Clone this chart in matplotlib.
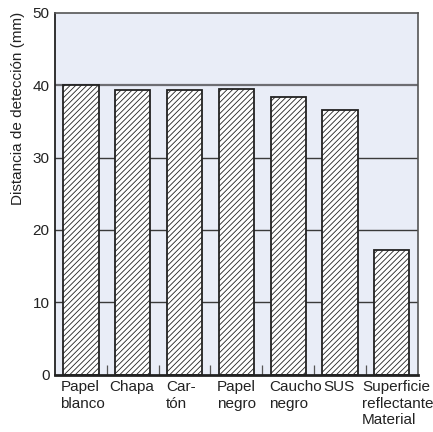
import matplotlib
matplotlib.use("Agg")
import matplotlib.pyplot as plt
from matplotlib.transforms import offset_copy

plt.rcParams["font.family"] = ["Liberation Sans", "DejaVu Sans"]
plt.rcParams["hatch.linewidth"] = 0.6

# Detection distance per target material
materials = ["Papel\nblanco", "Chapa", "Car-\ntón", "Papel\nnegro",
             "Caucho\nnegro", "SUS", "Superficie\nreflectante\nMaterial"]
distances = [40.0, 39.3, 39.3, 39.45, 38.35, 36.5, 17.3]
y_ticks = [0, 10, 20, 30, 40, 50]

# horizontal nudge (pixels) of each category label from its bar's left edge
label_nudge_px = [-3, -6, -1, -2, -1, 1, -12]

fig = plt.figure(figsize=(4.33, 4.32), dpi=100)
ax = fig.add_axes([0.127, 0.132, 0.8376, 0.839])
ax.set_facecolor("#E9EDF7")

# horizontal reference lines behind the bars
for y in y_ticks[1:-1]:
    ax.axhline(y, color="#3a3a3a" if y != 40 else "#6d6d72",
               lw=1.0 if y != 40 else 1.6, zorder=1)

x = list(range(len(materials)))
width = 0.68
ax.bar(x, distances, width=width, color="white", edgecolor="#222222",
       linewidth=1.3, hatch="//////", zorder=2)

ax.set_xlim(-0.5, len(materials) - 0.5)
ax.set_ylim(0, 50)
ax.set_yticks(y_ticks)
ax.tick_params(axis="y", length=0, pad=4, labelsize=11, colors="#222222")

# separators between categories along the bottom
ax.set_xticks([i + 0.5 for i in range(len(materials) - 1)], minor=True)
ax.set_xticks([])
ax.tick_params(axis="x", which="minor", direction="in", length=7,
               width=0.9, color="#555555")

# category labels, left-aligned under each bar
for i, (name, dx) in enumerate(zip(materials, label_nudge_px)):
    tr = offset_copy(ax.get_xaxis_transform(), fig=fig, x=dx, y=-5, units="dots")
    ax.text(i - width / 2, 0, name, transform=tr, ha="left", va="top",
            fontsize=11, linespacing=1.25, color="#222222", clip_on=False)

for side in ["top", "right"]:
    ax.spines[side].set_color("#555555")
    ax.spines[side].set_linewidth(1.2)
ax.spines["left"].set_color("#222222")
ax.spines["left"].set_linewidth(1.3)
ax.spines["bottom"].set_color("#222222")
ax.spines["bottom"].set_linewidth(2.0)

fig.text(0.042, 0.75, "Distancia de detección (mm)", rotation=90,
         ha="center", va="center", fontsize=11, color="#222222")

fig.savefig("out.png", dpi=100)
